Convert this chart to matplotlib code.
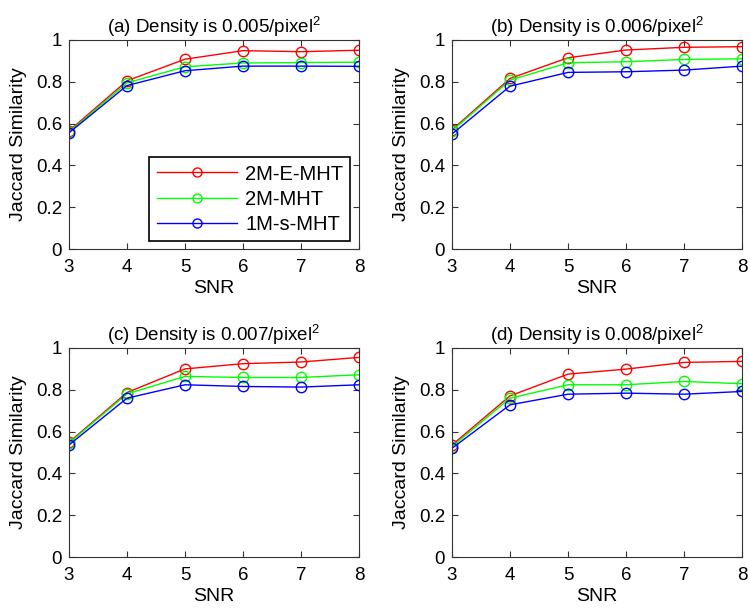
import matplotlib
matplotlib.use("Agg")
import matplotlib.pyplot as plt

snr = [3, 4, 5, 6, 7, 8]
titles = ["(a) Density is 0.005/pixel$^2$", "(b) Density is 0.006/pixel$^2$",
          "(c) Density is 0.007/pixel$^2$", "(d) Density is 0.008/pixel$^2$"]
methods = ["2M-E-MHT", "2M-MHT", "1M-s-MHT"]
colors = ["#ff0000", "#00ff00", "#0000ff"]

e_mht = [[0.565, 0.805, 0.908, 0.949, 0.944, 0.951],
         [0.570, 0.816, 0.915, 0.952, 0.965, 0.968],
         [0.549, 0.787, 0.900, 0.925, 0.933, 0.955],
         [0.536, 0.771, 0.875, 0.899, 0.931, 0.936]]
two_mht = [[0.560, 0.795, 0.872, 0.890, 0.892, 0.894],
           [0.565, 0.808, 0.891, 0.896, 0.907, 0.910],
           [0.545, 0.781, 0.864, 0.859, 0.859, 0.872],
           [0.528, 0.760, 0.824, 0.824, 0.840, 0.829]]
one_mht = [[0.556, 0.782, 0.853, 0.875, 0.875, 0.874],
           [0.550, 0.779, 0.845, 0.848, 0.856, 0.875],
           [0.536, 0.760, 0.824, 0.816, 0.813, 0.824],
           [0.520, 0.728, 0.779, 0.784, 0.779, 0.792]]

plt.rcParams["font.family"] = ["Liberation Sans", "DejaVu Sans"]
plt.rcParams["mathtext.fontset"] = "custom"
plt.rcParams["mathtext.rm"] = "Liberation Sans"

fig = plt.figure(figsize=(7.5, 6.12), dpi=100)
W, H = 750, 612
boxes = [(69, 40, 359, 249), (452, 40, 742, 249), (69, 348, 359, 557), (452, 348, 742, 557)]

for i, (x0, y0, x1, y1) in enumerate(boxes):
    ax = fig.add_axes([x0 / W, 1 - y1 / H, (x1 - x0) / W, (y1 - y0) / H])
    for vals, name, c in zip((e_mht[i], two_mht[i], one_mht[i]), methods, colors):
        ax.plot(snr, vals, "-o", color=c, mfc="none", mec=c, ms=7.5, lw=1, label=name)
    ax.set_xlim(3, 8)
    ax.set_ylim(0, 1)
    ax.set_xticks(snr)
    ax.set_yticks([0, 0.2, 0.4, 0.6, 0.8, 1])
    ax.set_yticklabels(["0", "0.2", "0.4", "0.6", "0.8", "1"])
    ax.tick_params(direction="in", top=True, right=True, labelsize=13.5, length=4,
                   pad=5, color="#333333")
    ax.tick_params(axis="x", pad=7)
    for s in ax.spines.values():
        s.set_color("#333333")
    ax.set_xlabel("SNR", fontsize=14, labelpad=3)
    ax.set_ylabel("Jaccard Similarity", fontsize=14, labelpad=6)
    ax.set_title(titles[i], fontsize=13.5, pad=5)
    if i == 0:
        leg = ax.legend(loc="lower right", fontsize=14.5, fancybox=False, edgecolor="black",
                        framealpha=1, handlelength=4.0, handletextpad=0.4, borderpad=0.35,
                        labelspacing=0.3, borderaxespad=0, bbox_to_anchor=(0.97, 0.04))
        leg.get_frame().set_linewidth(1.2)
        for h in leg.legend_handles:
            h.set_markersize(6.5)

fig.savefig("out.png", dpi=100)
